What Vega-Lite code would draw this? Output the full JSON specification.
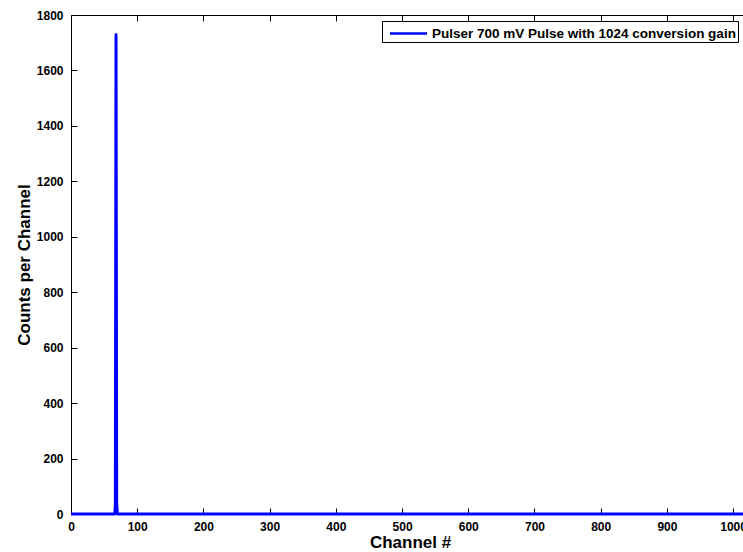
{
  "$schema": "https://vega.github.io/schema/vega-lite/v6.json",
  "width": 678,
  "height": 499,
  "autosize": "none",
  "padding": {"left": 71, "top": 15, "right": 0, "bottom": 38},
  "background": "white",
  "config": {
    "view": {"stroke": null},
    "font": "Liberation Sans",
    "axis": {
      "grid": false,
      "domainColor": "black",
      "domainWidth": 1,
      "tickColor": "black",
      "tickSize": -6,
      "tickWidth": 1,
      "labelColor": "black",
      "labelFont": "Liberation Sans",
      "labelFontSize": 12,
      "labelFontWeight": "bold",
      "labelFlush": false,
      "labelOverlap": false,
      "format": "d",
      "titleColor": "black",
      "titleFont": "Liberation Sans",
      "titleFontSize": 17,
      "titleFontWeight": "bold"
    }
  },
  "data": {
    "values": [
      {"channel": 0, "counts": 0, "series": "Pulser 700 mV Pulse with 1024 conversion gain"},
      {"channel": 66, "counts": 0, "series": "Pulser 700 mV Pulse with 1024 conversion gain"},
      {"channel": 67, "counts": 30, "series": "Pulser 700 mV Pulse with 1024 conversion gain"},
      {"channel": 68, "counts": 1730, "series": "Pulser 700 mV Pulse with 1024 conversion gain"},
      {"channel": 69, "counts": 40, "series": "Pulser 700 mV Pulse with 1024 conversion gain"},
      {"channel": 70, "counts": 0, "series": "Pulser 700 mV Pulse with 1024 conversion gain"},
      {"channel": 1023, "counts": 0, "series": "Pulser 700 mV Pulse with 1024 conversion gain"}
    ]
  },
  "layer": [
    {
      "mark": {"type": "line", "strokeWidth": 3, "strokeJoin": "round"},
      "encoding": {
        "x": {
          "field": "channel",
          "type": "quantitative",
          "scale": {"domain": [0, 1024], "nice": false, "zero": false},
          "axis": {
            "orient": "bottom",
            "title": "Channel #",
            "values": [0, 100, 200, 300, 400, 500, 600, 700, 800, 900, 1000],
            "format": "d",
            "labelPadding": 13,
            "titlePadding": 2
          }
        },
        "y": {
          "field": "counts",
          "type": "quantitative",
          "scale": {"domain": [0, 1800], "nice": false},
          "axis": {
            "orient": "left",
            "title": "Counts per Channel",
            "values": [0, 200, 400, 600, 800, 1000, 1200, 1400, 1600, 1800],
            "format": "d",
            "labelPadding": 14,
            "titlePadding": 3
          }
        },
        "color": {
          "field": "series",
          "type": "nominal",
          "scale": {"range": ["#0000ff"]},
          "legend": {
            "orient": "none",
            "legendX": 311,
            "legendY": 6,
            "title": null,
            "symbolType": "M-2,0H2",
            "symbolSize": 342,
            "symbolStrokeWidth": 2.5,
            "symbolFillColor": "transparent",
            "labelFont": "Liberation Sans",
            "labelFontSize": 13.5,
            "labelFontWeight": "bold",
            "labelColor": "black",
            "labelLimit": 0,
            "strokeColor": "black",
            "fillColor": "white",
            "padding": 2,
            "symbolOffset": 14,
            "labelOffset": 13
          }
        }
      }
    },
    {
      "mark": {"type": "point", "opacity": 0},
      "encoding": {
        "x": {
          "field": "channel",
          "type": "quantitative",
          "axis": {
            "orient": "top",
            "title": null,
            "labels": false,
            "values": [0, 100, 200, 300, 400, 500, 600, 700, 800, 900, 1000]
          }
        },
        "y": {
          "field": "counts",
          "type": "quantitative",
          "axis": {
            "orient": "right",
            "title": null,
            "labels": false,
            "values": [0, 200, 400, 600, 800, 1000, 1200, 1400, 1600, 1800]
          }
        }
      }
    }
  ]
}
